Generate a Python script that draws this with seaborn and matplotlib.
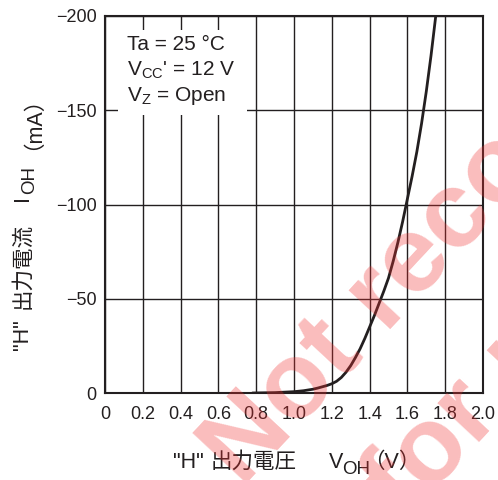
import numpy as np
import pandas as pd
import matplotlib
matplotlib.use("Agg")
import matplotlib.pyplot as plt
from matplotlib.patches import Rectangle
import seaborn as sns

# values
voh = [0.78, 0.9, 1.0, 1.05, 1.1, 1.125, 1.15, 1.175, 1.2, 1.225, 1.25, 1.275, 1.3, 1.325,
       1.35, 1.375, 1.4, 1.425, 1.45, 1.475, 1.5, 1.525, 1.55, 1.575, 1.6, 1.625, 1.65,
       1.675, 1.7, 1.725, 1.75]
ioh = [0, -0.2, -0.7, -1.2, -2.0, -2.6, -3.3, -4.0, -4.9, -6.2, -8.2, -11, -14.5, -18.8,
       -23.5, -29, -35, -41, -47.5, -54, -61, -70, -80, -91, -103, -115, -128,
       -143, -160, -179, -200]
x_ticks = [0, 0.2, 0.4, 0.6, 0.8, 1.0, 1.2, 1.4, 1.6, 1.8, 2.0]
x_labels = ["0", "0.2", "0.4", "0.6", "0.8", "1.0", "1.2", "1.4", "1.6", "1.8", "2.0"]
y_ticks = [0, -50, -100, -150, -200]
cond_lines = ["Ta = 25 °C", "V$\\mathregular{_{CC}}$' = 12 V", "V$\\mathregular{_Z}$ = Open"]

df = pd.DataFrame({"VOH": voh, "IOH": ioh})

sns.set_style("white")
plt.rcParams["font.family"] = ["Liberation Sans", "Noto Sans CJK JP", "DejaVu Sans"]
plt.rcParams["mathtext.fontset"] = "custom"
plt.rcParams["mathtext.rm"] = "Liberation Sans"

INK = "#231f20"
W, H = 498, 480
fig = plt.figure(figsize=(4.98, 4.8), dpi=100)
ax = fig.add_axes([105 / W, 1 - 393 / H, 378 / W, 377 / H])

sns.lineplot(data=df, x="VOH", y="IOH", ax=ax, color=INK, linewidth=2, zorder=3)

ax.set_xlim(0, 2.0)
ax.set_ylim(0, -200)
ax.set_xticks(x_ticks)
ax.set_xticklabels(x_labels)
ax.set_yticks(y_ticks)
ax.set_xlabel("")
ax.set_ylabel("")
ax.grid(True, color=INK, linewidth=1)
for s in ax.spines.values():
    s.set_color(INK)
    s.set_linewidth(1.5)
ax.tick_params(axis="both", length=0, labelsize=13, colors=INK)
ax.tick_params(axis="x", pad=9.5)
ax.tick_params(axis="y", pad=6)

# white box behind the conditions
ax.add_patch(Rectangle((13 / 378, 0.737), 0.342, 0.226, transform=ax.transAxes,
                       facecolor="white", edgecolor="none", zorder=2.5))
for i, line in enumerate(cond_lines):
    fig.text(127 / W, 1 - (50 + 25.5 * i) / H, line, ha="left", va="baseline",
             fontsize=15, color=INK, zorder=4)


# axis labels built piece by piece so the CJK glyphs can fall back
def label_h(x0, y0, pieces):
    prev = fig.text(x0, y0, pieces[0][0], fontsize=pieces[0][1], color=INK,
                    ha="left", va="baseline")
    for txt, size, gap, drop in pieces[1:]:
        prev = ax.annotate(txt, xy=(1, y0), xycoords=(prev, "figure fraction"),
                           xytext=(gap * 0.72, -drop * 0.72), textcoords="offset points",
                           fontsize=size, color=INK, ha="left", va="baseline",
                           annotation_clip=False)


def label_v(x0, y0, pieces):
    prev = fig.text(x0, y0, pieces[0][0], fontsize=pieces[0][1], color=INK, rotation=90,
                    rotation_mode="anchor", ha="left", va="baseline")
    for txt, size, gap, drop in pieces[1:]:
        prev = ax.annotate(txt, xy=(x0, 1), xycoords=("figure fraction", prev),
                           xytext=(drop * 0.72, gap * 0.72), textcoords="offset points",
                           fontsize=size, color=INK, rotation=90, rotation_mode="anchor",
                           ha="left", va="baseline", annotation_clip=False)


label_h(173 / W, 1 - 468 / H, [('"H"', 15.5), ("出力電圧", 15.5, 7, 0), ("V", 15.5, 32, 0),
                              ("OH", 13.5, -1, 6), ("（V）", 15.5, -7, 0)])
label_v(28 / W, 1 - 350 / H, [('"H"', 15.5), ("出力電流", 15.5, 10, 0), ("I", 15.5, 22, 0),
                             ("OH", 13.5, 1, 6), ("（mA）", 15.5, 16, 0)])

# watermark
fig.text(242 / W, 1 - 488 / H, "Not recommended", fontsize=78, fontweight="bold",
         color="#f03030", alpha=0.32, rotation=47, rotation_mode="anchor",
         ha="left", va="baseline", zorder=10)
fig.text(405 / W, 1 - 522 / H, "for new design", fontsize=78, fontweight="bold",
         color="#f03030", alpha=0.32, rotation=47, rotation_mode="anchor",
         ha="left", va="baseline", zorder=10)

fig.savefig("out.png", dpi=100)
